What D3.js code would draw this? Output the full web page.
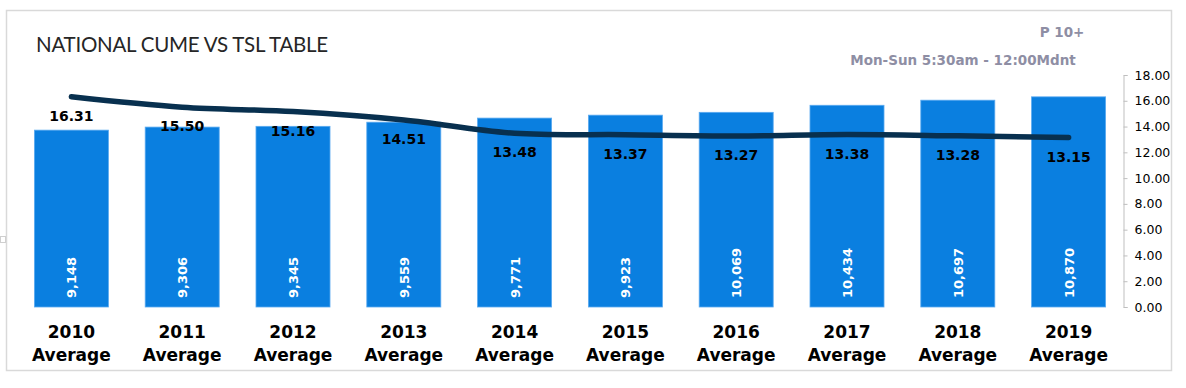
<!DOCTYPE html>
<html>
<head>
<meta charset="utf-8">
<script src="https://cdnjs.cloudflare.com/ajax/libs/d3/7.8.5/d3.min.js"></script>
<style>
  body { margin: 0; background: #fff; }
  svg { display: block; }
</style>
</head>
<body>
<div id="chart"></div>
<script>
// data
var years = ["2010", "2011", "2012", "2013", "2014", "2015", "2016", "2017", "2018", "2019"];
var cume = [9148, 9306, 9345, 9559, 9771, 9923, 10069, 10434, 10697, 10870];
var tsl = [16.31, 15.50, 15.16, 14.51, 13.48, 13.37, 13.27, 13.38, 13.28, 13.15];
var tslTicks = [0, 2, 4, 6, 8, 10, 12, 14, 16, 18];

var width = 1186, height = 388;
var plotLeft = 16, plotRight = 1124, plotTop = 75, plotBottom = 307;
var barColor = "#0a7fe0";
var lineColor = "#08304f";
var grayText = "#8e8ea4";

var svg = d3.select("#chart")
	.append("svg")
	.attr("width", width)
	.attr("height", height);

// frame
svg.append("rect")
	.attr("x", 6.5).attr("y", 10.5)
	.attr("width", 1165).attr("height", 360)
	.attr("fill", "none")
	.attr("stroke", "#d9d9d9")
	.attr("stroke-width", 1.5);
svg.append("rect")
	.attr("x", 0.5).attr("y", 236.5)
	.attr("width", 5).attr("height", 6)
	.attr("fill", "#fff")
	.attr("stroke", "#cfcfcf");

var x = d3.scaleBand()
	.domain(years)
	.range([plotLeft, plotRight])
	.paddingInner(0.332)
	.paddingOuter(0.166);

var yBar = d3.scaleLinear().domain([0, 12000]).range([plotBottom, plotTop]);
var yLine = d3.scaleLinear().domain([0, 18]).range([plotBottom, plotTop]);

// title
svg.append("text")
	.attr("x", 36).attr("y", 52)
	.style("font-family", "Lato, 'Open Sans', sans-serif")
	.style("font-size", "20.5px")
	.style("letter-spacing", "-0.25px")
	.attr("fill", "#262626")
	.text("NATIONAL CUME VS TSL TABLE");

svg.append("text")
	.attr("text-anchor", "middle")
	.attr("x", 1062).attr("y", 37)
	.style("font-family", "DejaVu Sans, Verdana, sans-serif")
	.style("font-weight", "bold")
	.style("font-size", "13.5px")
	.attr("fill", grayText)
	.text("P 10+");

svg.append("text")
	.attr("text-anchor", "middle")
	.attr("x", 963).attr("y", 65)
	.style("font-family", "DejaVu Sans, Verdana, sans-serif")
	.style("font-weight", "bold")
	.style("font-size", "13.5px")
	.attr("fill", grayText)
	.text("Mon-Sun 5:30am - 12:00Mdnt");

// bars
svg.selectAll(".bar")
	.data(cume)
	.enter().append("rect")
	.attr("class", "bar")
	.attr("x", function(d, i){ return x(years[i]); })
	.attr("y", function(d){ return yBar(d); })
	.attr("width", x.bandwidth())
	.attr("height", function(d){ return plotBottom - yBar(d); })
	.attr("fill", barColor)
	.attr("stroke", "#5aaaf0")
	.attr("stroke-width", 0.8);

// bar values (rotated)
svg.selectAll(".barLabel")
	.data(cume)
	.enter().append("text")
	.attr("class", "barLabel")
	.attr("transform", function(d, i){
		return "translate(" + (x(years[i]) + x.bandwidth() / 2 + 5) + "," + (plotBottom - 9) + ") rotate(-90)";
	})
	.attr("text-anchor", "start")
	.style("font-family", "DejaVu Sans, Verdana, sans-serif")
	.style("font-weight", "bold")
	.style("font-size", "13px")
	.attr("fill", "#fff")
	.text(function(d){ return d3.format(",")(d); });

// tsl line
var line = d3.line()
	.x(function(d, i){ return x(years[i]) + x.bandwidth() / 2; })
	.y(function(d){ return yLine(d); })
	.curve(d3.curveCatmullRom.alpha(0.5));

svg.append("path")
	.datum(tsl)
	.attr("d", line)
	.attr("fill", "none")
	.attr("stroke", lineColor)
	.attr("stroke-width", 5.5)
	.attr("stroke-linecap", "round")
	.attr("stroke-linejoin", "round");

svg.selectAll(".lineLabel")
	.data(tsl)
	.enter().append("text")
	.attr("class", "lineLabel")
	.attr("text-anchor", "middle")
	.attr("x", function(d, i){ return x(years[i]) + x.bandwidth() / 2; })
	.attr("y", function(d){ return yLine(d) + 24; })
	.style("font-family", "DejaVu Sans, Verdana, sans-serif")
	.style("font-weight", "bold")
	.style("font-size", "14px")
	.attr("fill", "#000")
	.text(function(d){ return d.toFixed(2); });

// right axis
var axis = svg.append("g")
	.attr("transform", "translate(1123.5,0)")
	.call(d3.axisRight(yLine)
		.tickValues(tslTicks)
		.tickSize(4)
		.tickPadding(7)
		.tickFormat(d3.format(".2f")));
axis.selectAll("path, line").attr("stroke", "#bfbfbf");
axis.selectAll("text")
	.style("font-family", "DejaVu Sans, Verdana, sans-serif")
	.style("font-size", "12.5px")
	.attr("fill", "#000");

// x labels
var xl = svg.selectAll(".xLabel")
	.data(years)
	.enter().append("text")
	.attr("class", "xLabel")
	.attr("text-anchor", "middle")
	.attr("x", function(d){ return x(d) + x.bandwidth() / 2; })
	.style("font-family", "DejaVu Sans, Verdana, sans-serif")
	.style("font-weight", "bold")
	.style("font-size", "17px")
	.attr("fill", "#000");
xl.append("tspan")
	.attr("x", function(d){ return x(d) + x.bandwidth() / 2; })
	.attr("y", 338)
	.text(function(d){ return d; });
xl.append("tspan")
	.attr("x", function(d){ return x(d) + x.bandwidth() / 2; })
	.attr("y", 361)
	.text("Average");
</script>
</body>
</html>
